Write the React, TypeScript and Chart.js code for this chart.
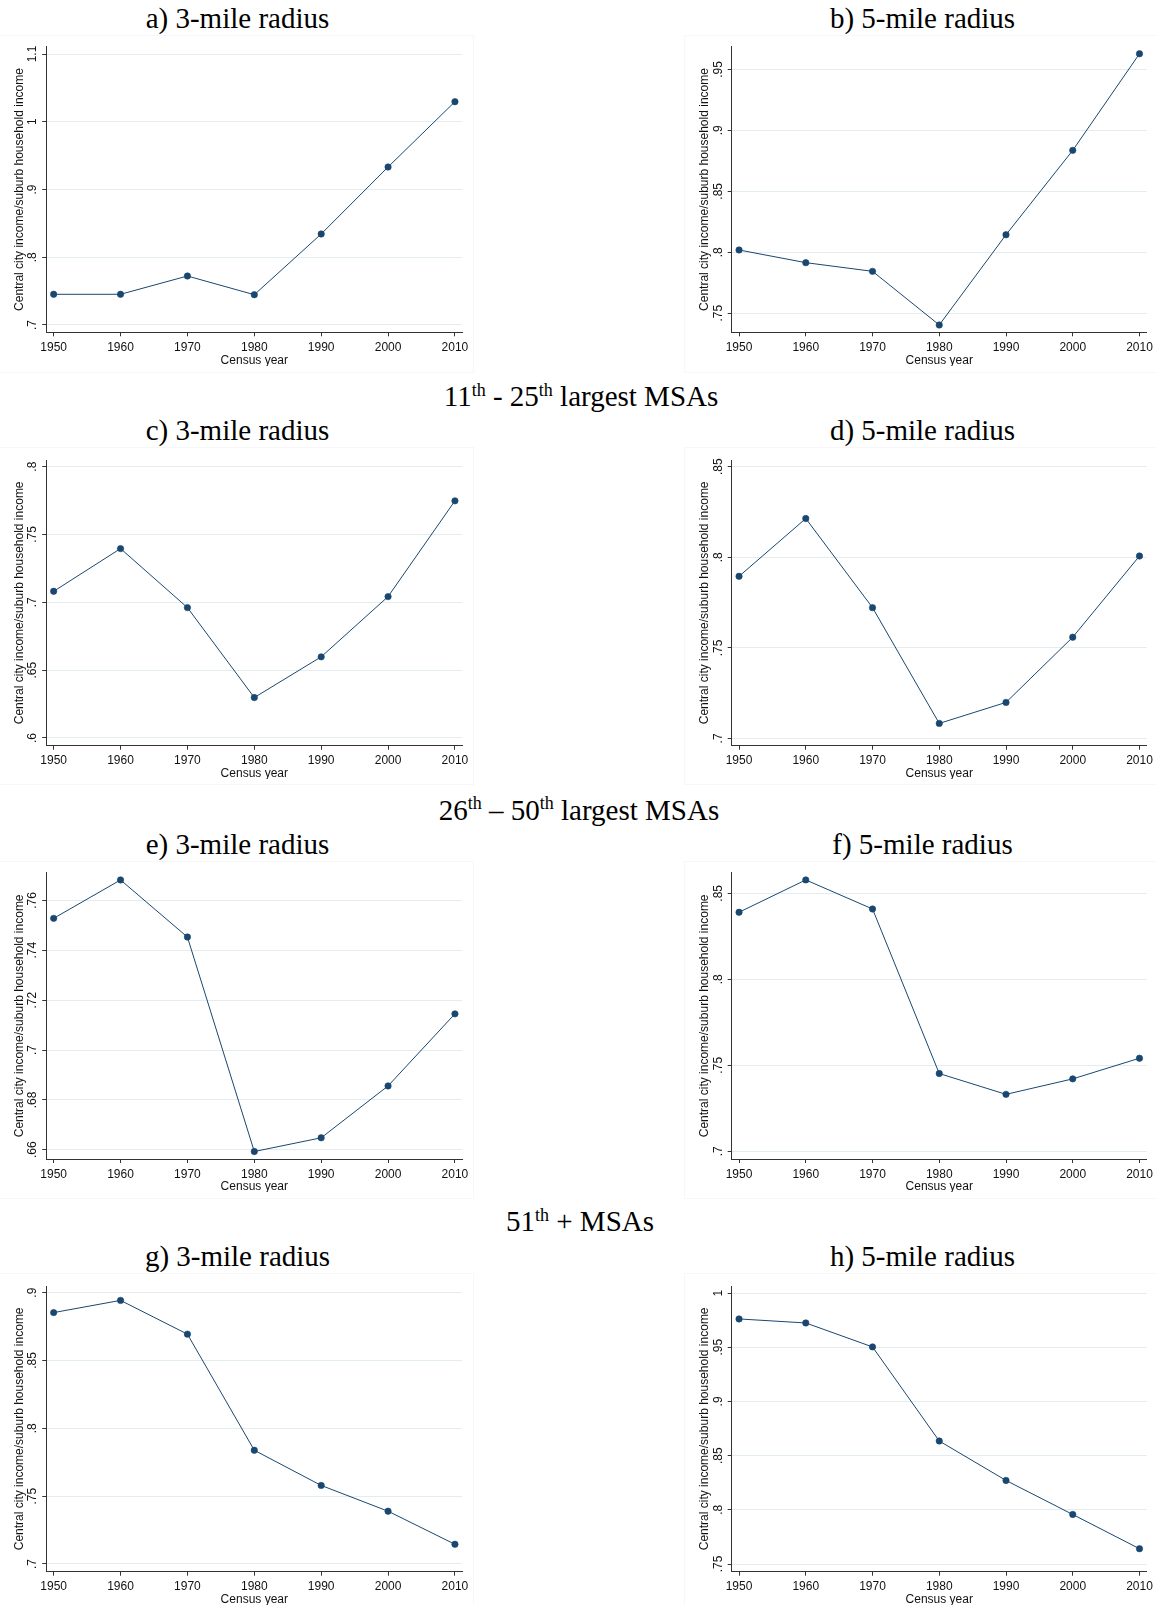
import React, { useEffect, useRef } from 'react';
import { Chart, registerables } from 'chart.js';

Chart.register(...registerables);

// ---------- data ----------
const years = [1950, 1960, 1970, 1980, 1990, 2000, 2010];
const xTicks = [1950, 1960, 1970, 1980, 1990, 2000, 2010];

const seriesA = [0.7453, 0.7453, 0.7723, 0.7447, 0.8343, 0.9332, 1.0296];
const seriesB = [0.8019, 0.7915, 0.7844, 0.7404, 0.8144, 0.8836, 0.9628];
const seriesC = [0.7081, 0.7396, 0.6961, 0.6298, 0.6598, 0.7042, 0.7748];
const seriesD = [0.7895, 0.8214, 0.7722, 0.7083, 0.7199, 0.7559, 0.8007];
const seriesE = [0.7528, 0.7682, 0.7453, 0.6593, 0.6648, 0.6856, 0.7145];
const seriesF = [0.839, 0.8578, 0.8409, 0.7452, 0.7331, 0.7421, 0.7541];
const seriesG = [0.8853, 0.8943, 0.8694, 0.7838, 0.7579, 0.7389, 0.7145];
const seriesH = [0.9761, 0.9724, 0.9503, 0.8635, 0.8271, 0.7957, 0.7641];

const yTicksA = [0.7, 0.8, 0.9, 1, 1.1];
const yTicksB = [0.75, 0.8, 0.85, 0.9, 0.95];
const yTicksC = [0.6, 0.65, 0.7, 0.75, 0.8];
const yTicksD = [0.7, 0.75, 0.8, 0.85];
const yTicksE = [0.66, 0.68, 0.7, 0.72, 0.74, 0.76];
const yTicksF = [0.7, 0.75, 0.8, 0.85];
const yTicksG = [0.7, 0.75, 0.8, 0.85, 0.9];
const yTicksH = [0.75, 0.8, 0.85, 0.9, 0.95, 1];

const panelTitles = [
  'a) 3-mile radius', 'b) 5-mile radius',
  'c) 3-mile radius', 'd) 5-mile radius',
  'e) 3-mile radius', 'f) 5-mile radius',
  'g) 3-mile radius', 'h) 5-mile radius',
];

const yAxisTitle = 'Central city income/suburb household income';
const xAxisTitle = 'Census year';

// ---------- layout / style ----------
const LINE = '#1a476f';
const AXIS = '#333333';
const GRID = '#e3ecef';
const SANS = '"Liberation Sans", Arial, Helvetica, sans-serif';
const SERIF = '"Liberation Serif", "Times New Roman", Times, serif';

const rowChartTop = [46.7, 460, 872.7, 1286];
const rowChartBottom = [332.3, 745.7, 1159, 1571.7];
const rowTitleBaseline = [28.3, 440.7, 854, 1266.7];
const rowBoxTop = [34.5, 446.7, 860.7, 1273.3];
const colCanvasLeft = [0, 685];
const colCanvasRight = [475, 1157];
const colChartLeft = [46.3, 731.7];
const colChartRight = [462.3, 1147.3];
const colTitleCenter = [237.5, 922.5];
const X_AXIS_H = 32.8;

const panels = [
  { values: seriesA, yTicks: yTicksA, yMin: 0.6892, yMax: 1.1108 },
  { values: seriesB, yTicks: yTicksB, yMin: 0.7344, yMax: 0.9686 },
  { values: seriesC, yTicks: yTicksC, yMin: 0.5943, yMax: 0.8049 },
  { values: seriesD, yTicks: yTicksD, yMin: 0.696, yMax: 0.8537 },
  { values: seriesE, yTicks: yTicksE, yMin: 0.6563, yMax: 0.7711 },
  { values: seriesF, yTicks: yTicksF, yMin: 0.6955, yMax: 0.862 },
  { values: seriesG, yTicks: yTicksG, yMin: 0.6943, yMax: 0.9049 },
  { values: seriesH, yTicks: yTicksH, yMin: 0.7429, yMax: 1.0065 },
];

const fmtTick = (v: number) => {
  const s = String(Math.round(v * 1000) / 1000);
  return s.replace(/^0\./, '.');
};

Chart.defaults.font.family = SANS;

function Panel({ idx }: { idx: number }) {
  const ref = useRef<HTMLCanvasElement | null>(null);
  const row = Math.floor(idx / 2);
  const col = idx % 2;
  const p = panels[idx];
  const chartTop = rowChartTop[row];
  const chartBottom = rowChartBottom[row];
  const cTop = Math.floor(chartTop) - 10;
  const cBottom = Math.min(1605, Math.ceil(chartBottom + X_AXIS_H));
  const cLeft = colCanvasLeft[col];
  const cRight = colCanvasRight[col];
  const W = cRight - cLeft;
  const H = cBottom - cTop;
  const padLeft = 8;
  const yAxisW = colChartLeft[col] - cLeft - padLeft;

  useEffect(() => {
    if (!ref.current) return;
    const chart = new Chart(ref.current, {
      type: 'line',
      data: {
        datasets: [
          {
            data: years.map((x, i) => ({ x, y: p.values[i] })),
            borderColor: LINE,
            backgroundColor: LINE,
            borderWidth: 1,
            pointRadius: 3.2,
            pointBorderWidth: 0.6,
            pointBackgroundColor: LINE,
            pointBorderColor: LINE,
            tension: 0,
          },
        ],
      },
      options: {
        responsive: false,
        animation: false,
        devicePixelRatio: 1,
        events: [],
        layout: {
          padding: {
            left: padLeft,
            top: chartTop - cTop,
            right: cRight - colChartRight[col],
            bottom: cBottom - chartBottom - X_AXIS_H,
          },
        },
        plugins: {
          legend: { display: false },
          tooltip: { enabled: false },
          title: { display: false },
        },
        scales: {
          x: {
            type: 'linear',
            min: 1948.9,
            max: 2011.1,
            afterBuildTicks: (axis: any) => {
              axis.ticks = xTicks.map((v) => ({ value: v }));
            },
            afterFit: (axis: any) => {
              axis.height = X_AXIS_H;
            },
            grid: {
              display: true,
              drawOnChartArea: false,
              drawTicks: true,
              tickLength: 4,
              tickColor: AXIS,
              tickWidth: 1,
            },
            border: { display: true, color: AXIS, width: 1 },
            ticks: {
              autoSkip: false,
              maxRotation: 0,
              minRotation: 0,
              padding: 4,
              color: '#111',
              font: { size: 12, family: SANS },
              callback: (v: any) => String(v),
            },
            title: {
              display: true,
              text: xAxisTitle,
              color: '#111',
              font: { size: 12, family: SANS, lineHeight: 0.8 },
              padding: { top: 0, bottom: 0 },
            },
          },
          y: {
            type: 'linear',
            min: p.yMin,
            max: p.yMax,
            afterBuildTicks: (axis: any) => {
              axis.ticks = p.yTicks.map((v) => ({ value: v }));
            },
            afterFit: (axis: any) => {
              axis.width = yAxisW;
            },
            grid: {
              display: true,
              drawOnChartArea: true,
              drawTicks: true,
              tickLength: 4,
              color: GRID,
              lineWidth: 1,
              tickColor: AXIS,
              tickWidth: 1,
            },
            border: { display: true, color: AXIS, width: 1 },
            ticks: {
              autoSkip: false,
              minRotation: 90,
              maxRotation: 90,
              crossAlign: 'center',
              padding: 1,
              color: '#111',
              font: { size: 12, family: SANS },
              callback: (v: any) => fmtTick(Number(v)),
            },
            title: {
              display: true,
              text: yAxisTitle,
              color: '#111',
              font: { size: 12, family: SANS },
              padding: { top: 4, bottom: 0 },
            },
          },
        },
      } as any,
    });
    return () => chart.destroy();
  }, []);

  return (
    <canvas
      ref={ref}
      width={W}
      height={H}
      style={{ position: 'absolute', left: cLeft, top: cTop, width: W, height: H, display: 'block' }}
    />
  );
}

function Sup({ children }: { children: React.ReactNode }) {
  return (
    <span style={{ fontSize: '0.62em', position: 'relative', top: '-0.58em', lineHeight: 0 }}>{children}</span>
  );
}

const TITLE_SIZE = 29;
const BASE_OFF = 24.3; // baseline offset from top of a 29px line box

function TextAt({ cx, baseline, children }: { cx: number; baseline: number; children: React.ReactNode }) {
  return (
    <div
      style={{
        position: 'absolute',
        left: cx - 300,
        width: 600,
        top: baseline - BASE_OFF,
        textAlign: 'center',
        fontFamily: SERIF,
        fontSize: TITLE_SIZE,
        lineHeight: `${TITLE_SIZE}px`,
        color: '#000',
        whiteSpace: 'nowrap',
      }}
    >
      {children}
    </div>
  );
}

export default function App() {
  useEffect(() => {
    document.body.style.margin = '0';
    document.body.style.overflow = 'hidden';
  }, []);

  return (
    <div style={{ position: 'absolute', left: 0, top: 0, width: 1157, height: 1605, background: '#fff', overflow: 'hidden' }}>
      {rowBoxTop.map((t, r) => (
        <React.Fragment key={'box' + r}>
          <div style={{ position: 'absolute', left: -1, top: t, width: 475, height: 338, border: '1px solid #f7f7f7', boxSizing: 'border-box' }} />
          <div style={{ position: 'absolute', left: 684, top: t, width: 475, height: 338, border: '1px solid #f7f7f7', boxSizing: 'border-box' }} />
        </React.Fragment>
      ))}
      {panels.map((_, i) => (
        <Panel key={i} idx={i} />
      ))}
      {panelTitles.map((t, i) => (
        <TextAt key={'t' + i} cx={colTitleCenter[i % 2]} baseline={rowTitleBaseline[Math.floor(i / 2)]}>
          {t}
        </TextAt>
      ))}
      <TextAt cx={581} baseline={406.7}>
        11<Sup>th</Sup> - 25<Sup>th</Sup> largest MSAs
      </TextAt>
      <TextAt cx={579} baseline={820}>
        26<Sup>th</Sup> – 50<Sup>th</Sup> largest MSAs
      </TextAt>
      <TextAt cx={580} baseline={1231.7}>
        51<Sup>th</Sup> + MSAs
      </TextAt>
    </div>
  );
}
